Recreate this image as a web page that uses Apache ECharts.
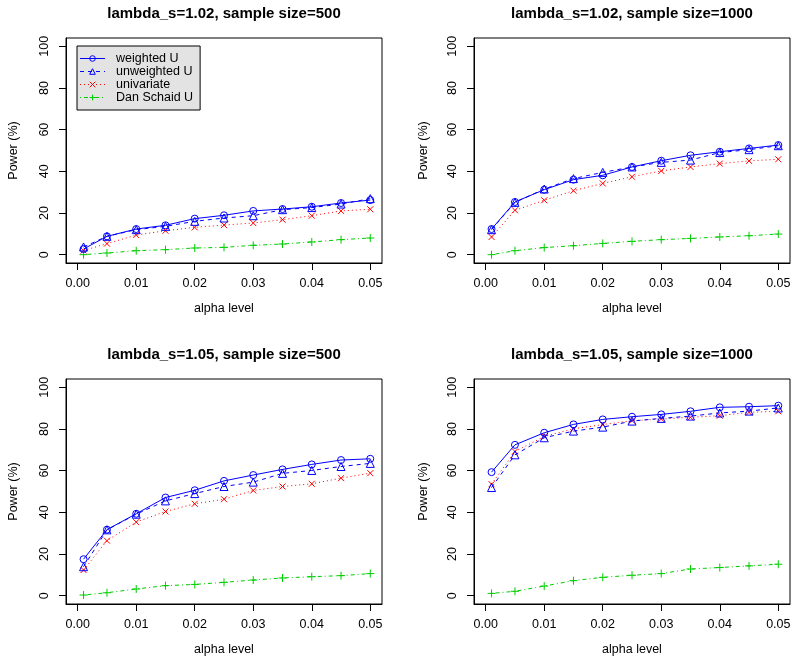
<!DOCTYPE html>
<html>
<head>
<meta charset="utf-8">
<script src="https://cdn.jsdelivr.net/npm/echarts@6/dist/echarts.min.js"></script>
<style>
  html, body { margin: 0; padding: 0; background: #fff; }
  #chart { width: 800px; height: 665px; }
</style>
</head>
<body>
<div id="chart"></div>
<script>
// ---- data ----
const alpha = [0.001, 0.005, 0.01, 0.015, 0.02, 0.025, 0.03, 0.035, 0.04, 0.045, 0.05];
const xTicks = [0, 0.01, 0.02, 0.03, 0.04, 0.05];
const yTicks = [0, 20, 40, 60, 80, 100];
const seriesNames = ['weighted U', 'unweighted U', 'univariate', 'Dan Schaid U'];
const panelTitles = [
  'lambda_s=1.02, sample size=500',
  'lambda_s=1.02, sample size=1000',
  'lambda_s=1.05, sample size=500',
  'lambda_s=1.05, sample size=1000'
];

// lambda_s = 1.02, n = 500
const weighted_102_500   = [2.7, 8.8, 12.3, 14.1, 17.3, 18.9, 21.0, 21.9, 23.0, 24.8, 26.2];
const unweighted_102_500 = [3.7, 8.8, 12.0, 13.6, 16.0, 17.6, 18.7, 21.6, 22.6, 24.3, 26.9];
const univariate_102_500 = [2.0, 5.3, 9.4, 11.5, 13.1, 14.2, 15.2, 16.8, 18.7, 21.0, 21.8];
const schaid_102_500     = [0.0, 0.8, 1.9, 2.4, 3.2, 3.5, 4.5, 5.1, 6.1, 7.2, 8.0];

// lambda_s = 1.02, n = 1000
const weighted_102_1000   = [12.3, 25.3, 31.2, 36.0, 38.1, 42.1, 45.1, 47.7, 49.4, 51.0, 52.6];
const unweighted_102_1000 = [12.0, 25.1, 31.5, 36.5, 39.5, 42.1, 44.3, 45.4, 49.0, 50.4, 52.3];
const univariate_102_1000 = [8.5, 21.3, 26.1, 30.7, 34.2, 37.4, 40.2, 42.1, 43.7, 45.0, 45.8];
const schaid_102_1000     = [0.0, 1.9, 3.4, 4.3, 5.4, 6.4, 7.2, 7.8, 8.5, 9.1, 9.9];

// lambda_s = 1.05, n = 500
const weighted_105_500   = [17.5, 31.7, 39.3, 47.1, 50.6, 55.1, 57.9, 60.6, 63.0, 65.1, 65.7];
const unweighted_105_500 = [13.9, 31.6, 39.1, 45.5, 49.0, 52.4, 54.5, 58.7, 60.1, 62.0, 63.5];
const univariate_105_500 = [12.3, 26.4, 35.3, 40.4, 44.1, 46.3, 50.5, 52.4, 53.7, 56.4, 58.8];
const schaid_105_500     = [0.3, 1.4, 3.2, 4.8, 5.4, 6.4, 7.5, 8.5, 9.1, 9.6, 10.6];

// lambda_s = 1.05, n = 1000
const weighted_105_1000   = [59.3, 72.4, 78.2, 82.2, 84.6, 85.9, 87.0, 88.5, 90.4, 90.7, 91.2];
const unweighted_105_1000 = [51.9, 67.6, 75.8, 79.0, 80.9, 83.8, 85.1, 86.2, 87.7, 88.6, 90.1];
const univariate_105_1000 = [53.5, 69.2, 76.4, 80.1, 82.1, 84.0, 84.8, 85.6, 86.4, 88.0, 88.5];
const schaid_105_1000     = [1.1, 2.1, 4.6, 7.2, 8.8, 9.8, 10.6, 12.8, 13.5, 14.3, 15.1];

const panels = [
  [weighted_102_500, unweighted_102_500, univariate_102_500, schaid_102_500],
  [weighted_102_1000, unweighted_102_1000, univariate_102_1000, schaid_102_1000],
  [weighted_105_500, unweighted_105_500, univariate_105_500, schaid_105_500],
  [weighted_105_1000, unweighted_105_1000, univariate_105_1000, schaid_105_1000]
];

// ---- styling / layout ----
const FONT = '"Liberation Sans", Arial, Helvetica, sans-serif';
const grids = [
  { left: 66,  top: 38,  width: 316, height: 225 },
  { left: 474, top: 38,  width: 316, height: 225 },
  { left: 66,  top: 379, width: 316, height: 225 },
  { left: 474, top: 379, width: 316, height: 225 }
];
const yNameGap = [46, 44, 46, 44];
const titleTops = [6, 6, 347, 347];

const styles = [
  { color: '#0000FF', symbol: 'circle', size: 7, dash: 'solid' },
  { color: '#0000FF', symbol: 'triangle', size: 8, dash: [4, 4] },
  { color: '#FF0000', symbol: 'path://M0,0L10,10M10,0L0,10', size: 6, dash: [1, 3] },
  { color: '#00CD00', symbol: 'path://M5,0L5,10M0,5L10,5', size: 8, dash: [1, 3, 4, 3] }
];

const option = {
  animation: false,
  backgroundColor: '#fff',
  title: panelTitles.map((t, i) => ({
    text: t,
    left: grids[i].left + grids[i].width / 2,
    top: titleTops[i],
    textAlign: 'center',
    padding: 0,
    textStyle: { fontFamily: FONT, fontSize: 15, fontWeight: 'bold', color: '#000' }
  })),
  legend: {
    data: seriesNames.map((n, i) => ({
      name: n,
      itemStyle: { color: 'rgba(255,255,255,0)', borderColor: styles[i].color, borderWidth: 1 },
      lineStyle: { color: styles[i].color, width: 1, type: styles[i].dash }
    })),
    orient: 'vertical',
    left: 77,
    top: 46,
    padding: [6, 7, 6, 2.5],
    itemWidth: 25,
    itemHeight: 7,
    itemGap: 0,
    backgroundColor: '#e3e3e3',
    borderColor: '#000',
    borderWidth: 1,
    borderRadius: 0,
    textStyle: { fontFamily: FONT, fontSize: 12.5, color: '#000', lineHeight: 12.6, padding: [0, 0, 0, 6] }
  },
  grid: grids.map(g => Object.assign({
    show: true, borderColor: '#000', borderWidth: 1, backgroundColor: 'transparent', containLabel: false
  }, g)),
  xAxis: grids.map((g, i) => ({
    type: 'value',
    gridIndex: i,
    min: -0.002,
    max: 0.052,
    name: 'alpha level',
    nameLocation: 'middle',
    nameGap: 39,
    nameTextStyle: { fontFamily: FONT, fontSize: 12.5, color: '#000' },
    axisLine: { show: true, onZero: false, lineStyle: { color: '#000', width: 1 } },
    splitLine: { show: false },
    axisTick: { show: true, inside: false, length: 7, lineStyle: { color: '#000' }, customValues: xTicks },
    axisLabel: {
      customValues: xTicks,
      formatter: v => v.toFixed(2),
      margin: 14,
      fontFamily: FONT, fontSize: 12.5, color: '#000'
    }
  })),
  yAxis: grids.map((g, i) => ({
    type: 'value',
    gridIndex: i,
    min: -4,
    max: 104,
    name: 'Power (%)',
    nameLocation: 'middle',
    nameGap: yNameGap[i],
    nameTextStyle: { fontFamily: FONT, fontSize: 12.5, color: '#000' },
    axisLine: { show: true, onZero: false, lineStyle: { color: '#000', width: 1 } },
    splitLine: { show: false },
    axisTick: { show: true, inside: false, length: 7, lineStyle: { color: '#000' }, customValues: yTicks },
    axisLabel: {
      customValues: yTicks,
      rotate: 90,
      margin: 15,
      fontFamily: FONT, fontSize: 12.5, color: '#000'
    }
  })),
  series: []
};

panels.forEach((pdata, pi) => {
  pdata.forEach((vals, si) => {
    const st = styles[si];
    option.series.push({
      type: 'line',
      name: seriesNames[si],
      xAxisIndex: pi,
      yAxisIndex: pi,
      data: alpha.map((a, k) => [a, vals[k]]),
      symbol: st.symbol,
      symbolSize: st.size,
      showSymbol: true,
      showAllSymbol: true,
      silent: true,
      z: 10 - si,
      color: st.color,
      lineStyle: { color: st.color, width: 1, type: st.dash },
      itemStyle: { color: 'rgba(255,255,255,0)', borderColor: st.color, borderWidth: 1 },
      emphasis: { disabled: true }
    });
  });
});

const chart = echarts.init(document.getElementById('chart'), null, { renderer: 'canvas' });
chart.setOption(option);
</script>
</body>
</html>
